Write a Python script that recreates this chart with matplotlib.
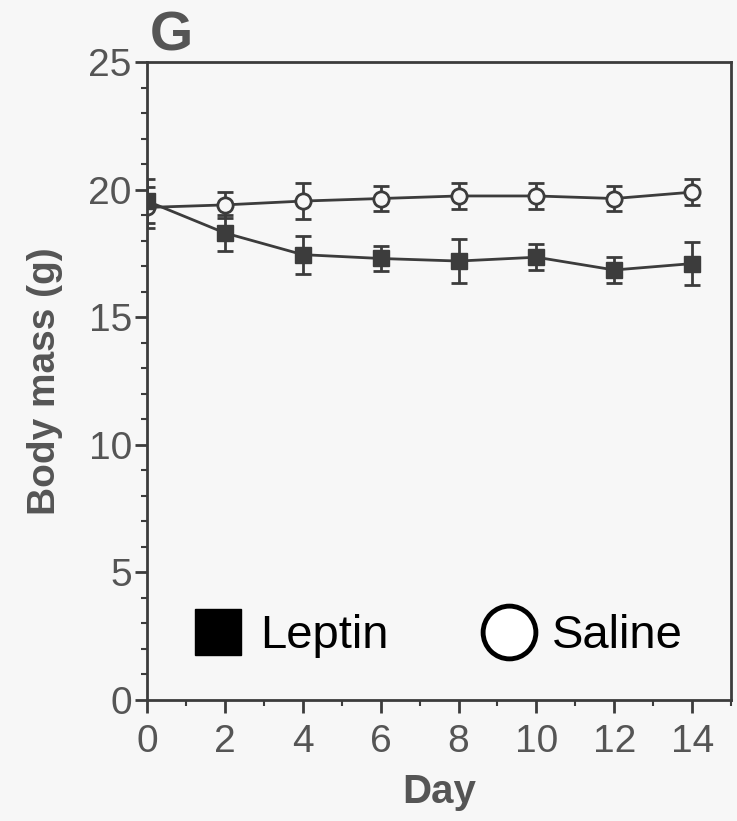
import numpy as np
import matplotlib.pyplot as plt
from matplotlib.lines import Line2D
from matplotlib.ticker import MultipleLocator

plt.rcParams['font.family'] = ['Liberation Sans', 'DejaVu Sans']

days = [0, 2, 4, 6, 8, 10, 12, 14]
saline = [19.3, 19.4, 19.55, 19.65, 19.75, 19.75, 19.65, 19.9]
saline_err = [0.8, 0.5, 0.7, 0.5, 0.5, 0.5, 0.5, 0.5]
leptin = [19.55, 18.3, 17.45, 17.3, 17.2, 17.35, 16.85, 17.1]
leptin_err = [0.85, 0.7, 0.75, 0.5, 0.85, 0.5, 0.5, 0.85]

ink = '#3c3c3c'
txt = '#555555'
bg = '#f7f7f7'

fig = plt.figure(figsize=(7.37, 8.21), dpi=100, facecolor=bg)
ax = fig.add_axes([0.1995, 0.1474, 0.7925, 0.7771], facecolor=bg)

ax.errorbar(days, saline, yerr=saline_err, color=ink, lw=2, marker='o',
            ms=11, mfc=bg, mec=ink, mew=2, capsize=6, elinewidth=2, capthick=2)
ax.errorbar(days, leptin, yerr=leptin_err, color=ink, lw=2, marker='s',
            ms=11, mfc=ink, mec=ink, capsize=6, elinewidth=2, capthick=2)

ax.set_xlim(0, 15)
ax.set_ylim(0, 25)
ax.xaxis.set_major_locator(MultipleLocator(2))
ax.xaxis.set_minor_locator(MultipleLocator(1))
ax.yaxis.set_major_locator(MultipleLocator(5))
ax.yaxis.set_minor_locator(MultipleLocator(1))
for s in ax.spines.values():
    s.set_color(ink)
    s.set_linewidth(2)
ax.tick_params(which='major', direction='out', length=9, width=2,
               color=ink, labelsize=28, labelcolor=txt)
ax.tick_params(axis='x', which='major', pad=8)
ax.tick_params(axis='y', which='major', pad=2)
ax.tick_params(which='minor', direction='out', length=4, width=1.5, color=ink)
ax.tick_params(top=False, right=False, which='both')

ax.set_xlabel('Day', fontsize=29, fontweight='bold', color=txt, labelpad=10)
ax.set_ylabel('Body mass (g)', fontsize=28, fontweight='bold', color=txt, labelpad=18)
fig.text(0.203, 0.939, 'G', fontsize=40, fontweight='bold', color=txt)

handles = [Line2D([], [], ls='none', marker='s', ms=33, mfc='black', mec='black'),
           Line2D([], [], ls='none', marker='o', ms=38, mfc='white', mec='black', mew=3.5)]
ax.legend(handles, ['Leptin', 'Saline'], ncol=2, frameon=False, fontsize=34,
          loc='center left', bbox_to_anchor=(0.0, 0.10), handlelength=1.2,
          handletextpad=0.3, columnspacing=1.95, labelcolor='black')

fig.savefig('out.png', dpi=100, facecolor=bg)
